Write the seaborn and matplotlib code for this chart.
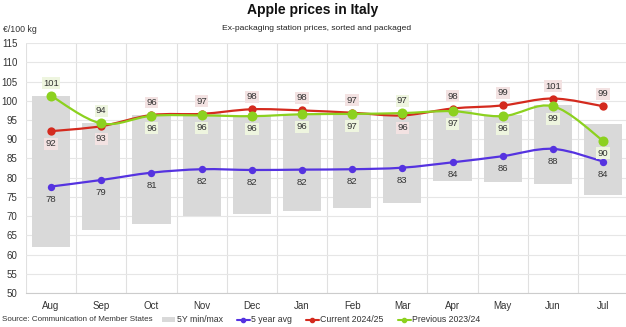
import numpy as np
import pandas as pd
import matplotlib
matplotlib.use("Agg")
import matplotlib.pyplot as plt
from matplotlib.path import Path
from matplotlib.patches import PathPatch, Patch
from matplotlib.lines import Line2D
import seaborn as sns

months = ["Aug", "Sep", "Oct", "Nov", "Dec", "Jan", "Feb", "Mar", "Apr", "May", "Jun", "Jul"]
range_min = [62.0, 66.3, 67.9, 70.1, 70.5, 71.4, 72.0, 73.5, 79.2, 79.0, 78.3, 75.6]
range_max = [101.3, 94.2, 96.3, 96.8, 96.0, 96.6, 96.8, 96.3, 97.6, 96.3, 98.8, 93.9]
avg_5y = [77.7, 79.4, 81.3, 82.2, 82.0, 82.1, 82.2, 82.6, 84.0, 85.6, 87.5, 84.2]
current = [92.1, 93.4, 96.3, 96.6, 97.8, 97.5, 96.9, 96.2, 98.0, 98.8, 100.6, 98.6]
previous = [101.3, 94.1, 96.1, 96.2, 96.0, 96.5, 96.6, 96.8, 97.3, 96.0, 98.6, 89.6]

C_RANGE = "#d9d9d9"
C_AVG = "#5533e0"
C_CUR = "#d42a1e"
C_PREV = "#8cd11f"

sns.set_theme(style="white")
plt.rcParams["font.family"] = ["Liberation Sans", "DejaVu Sans"]

fig = plt.figure(figsize=(6.26, 3.27), dpi=100)
ax = fig.add_axes([0.0415, 0.104, 0.962, 0.764])

df = pd.DataFrame({
    "month": months, "x": np.arange(len(months)),
    "min": range_min, "max": range_max,
    "avg": avg_5y, "cur": current, "prev": previous,
})

# min/max range as floating bars
ax.bar(df["x"], df["max"] - df["min"], bottom=df["min"], width=0.76,
       color=C_RANGE, zorder=1, linewidth=0)


def smooth_path(xs, ys, k=1 / 6):
    xs = np.asarray(xs, float)
    ys = np.asarray(ys, float)
    n = len(xs)
    verts = [(xs[0], ys[0])]
    codes = [Path.MOVETO]
    for i in range(n - 1):
        p0 = np.array([xs[max(i - 1, 0)], ys[max(i - 1, 0)]])
        p1 = np.array([xs[i], ys[i]])
        p2 = np.array([xs[i + 1], ys[i + 1]])
        p3 = np.array([xs[min(i + 2, n - 1)], ys[min(i + 2, n - 1)]])
        c1 = p1 + (p2 - p0) * k
        c2 = p2 - (p3 - p1) * k
        verts += [tuple(c1), tuple(c2), tuple(p2)]
        codes += [Path.CURVE4] * 3
    return Path(verts, codes)


series = [("avg", C_AVG, 28, 3), ("cur", C_CUR, 36, 4), ("prev", C_PREV, 52, 5)]
for col, color, size, z in series:
    ax.add_patch(PathPatch(smooth_path(df["x"], df[col]), facecolor="none",
                           edgecolor=color, lw=1.6, zorder=z))
    sns.scatterplot(data=df, x="x", y=col, color=color, s=size, linewidth=0,
                    ax=ax, zorder=z + 0.5, legend=False)

# value labels
lab_kw = dict(ha="center", va="center", fontsize=6.8, color="#333333", zorder=10,
              textcoords="offset points")
for i in range(len(months)):
    ax.annotate(f"{round(avg_5y[i])}", (i, avg_5y[i]), xytext=(0, -9), **lab_kw)
    cur_up = current[i] >= previous[i]
    ax.annotate(f"{round(current[i])}", (i, current[i]), xytext=(0, 9 if cur_up else -9),
                bbox=dict(boxstyle="square,pad=0.15", fc="#f3e2e2", ec="none"), **lab_kw)
    ax.annotate(f"{round(previous[i])}", (i, previous[i]), xytext=(0, -9 if cur_up else 9),
                bbox=dict(boxstyle="square,pad=0.15", fc="#eef5df", ec="none"), **lab_kw)

ax.set_xlim(-0.5, 11.5)
ax.set_ylim(50, 115)
ax.set_yticks(np.arange(50, 116, 5))
ax.set_xticks(np.arange(12))
ax.set_xticklabels(months)
ax.set_xticks(np.arange(-0.5, 12, 1), minor=True)
ax.tick_params(axis="both", which="major", labelsize=7, colors="#333333", length=0, pad=6)
ax.tick_params(axis="x", which="minor", length=4, color="#d0d0d0", width=0.8)
ax.grid(axis="y", color="#e6e6e6", lw=0.8, zorder=0)
ax.grid(axis="x", which="minor", color="#e0e0e0", lw=0.8, zorder=0)
ax.set_axisbelow(True)
ax.set_xlabel("")
ax.set_ylabel("")
for s in ["top", "right", "left"]:
    ax.spines[s].set_visible(False)
ax.spines["bottom"].set_color("#cccccc")
ax.spines["bottom"].set_linewidth(0.8)

fig.text(0.5, 0.968, "Apple prices in Italy", ha="center", va="center",
         fontsize=10, fontweight="bold", color="#111111")
fig.text(0.505, 0.914, "Ex-packaging station prices, sorted and packaged", ha="center",
         va="center", fontsize=6.1, color="#222222")
fig.text(0.005, 0.91, "€/100 kg", ha="left", va="center", fontsize=6.3, color="#333333")
fig.text(0.003, 0.022, "Source: Communication of Member States", ha="left", va="center",
         fontsize=5.8, color="#333333")

handles = [
    Patch(facecolor=C_RANGE, edgecolor="none", label="5Y min/max"),
    Line2D([], [], color=C_AVG, lw=1.5, marker="o", ms=3, label="5 year avg"),
    Line2D([], [], color=C_CUR, lw=1.5, marker="o", ms=3, label="Current 2024/25"),
    Line2D([], [], color=C_PREV, lw=1.5, marker="o", ms=3, label="Previous 2023/24"),
]
fig.legend(handles=handles, loc="center left", bbox_to_anchor=(0.259, 0.022), ncol=4,
           frameon=False, fontsize=6.3, handlelength=1.5, handleheight=0.45,
           handletextpad=0.15, columnspacing=1.6, borderpad=0, borderaxespad=0,
           labelcolor="#333333")

fig.savefig("out.png", dpi=100)
